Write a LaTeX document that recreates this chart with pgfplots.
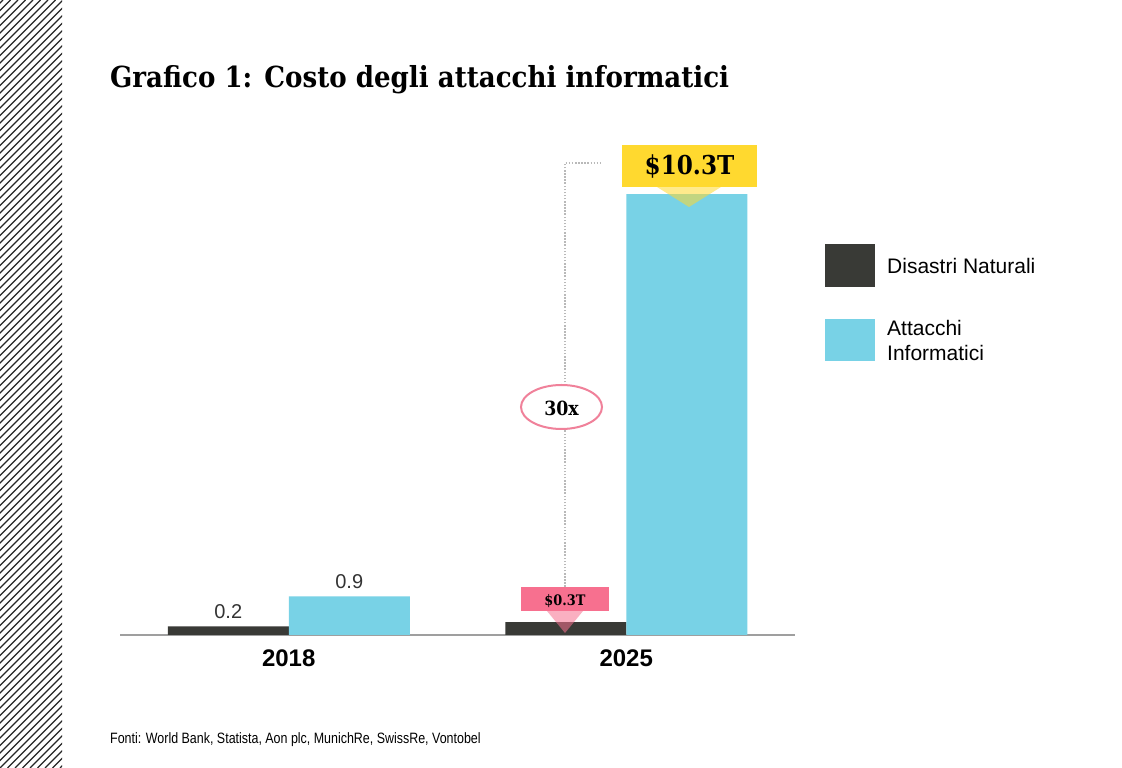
\documentclass[border=0pt]{standalone}
\usepackage{pgfplots}
\pgfplotsset{compat=1.18}
\usepackage{fontspec}
\setmainfont{Liberation Sans}
\newfontfamily\titlefont[FakeStretch=0.9]{DejaVu Serif}
\newfontfamily\tagfont[FakeStretch=0.89]{DejaVu Serif}
\newfontfamily\narrowsans[FakeStretch=0.83]{Liberation Sans}

\definecolor{darkbar}{HTML}{393A36}
\definecolor{cyanbar}{HTML}{78D2E6}
\definecolor{tagyellow}{HTML}{FFD92F}
\definecolor{tagpink}{HTML}{F7708F}
\definecolor{ringpink}{HTML}{F0819A}

\begin{document}
\begin{tikzpicture}
\begin{scope}[x=1pt,y=1pt]
  \fill[white] (0,0) rectangle (1122,768);
  \path[use as bounding box] (0,0) rectangle (1122,768);
  % hatched strip on the left
  \begin{scope}
    \clip (0,0) rectangle (62,768);
    \foreach \k in {-104,...,9}
      \draw[line width=1.1pt, black!85] (7.5*\k,0) -- ++(768,768);
  \end{scope}
  % title
  \node[anchor=base west, inner sep=0] at (110,680)
    {\titlefont\bfseries\fontsize{29}{34}\selectfont Grafico 1: Costo degli attacchi informatici};
\end{scope}

\begin{axis}[
    at={(120pt,133pt)}, anchor=south west,
    scale only axis, width=675pt, height=470.8pt,
    xmin=-0.5, xmax=1.5, ymin=0, ymax=11,
    enlargelimits=false, clip=false,
    ybar=0pt, bar width=121pt,
    axis x line*=bottom, axis y line=none,
    x axis line style={draw=gray!75, line width=1.4pt, -},
    xtick={0,1}, xticklabels={2018,2025},
    major tick length=0pt,
    xticklabel style={font=\bfseries\fontsize{24}{28}\selectfont, anchor=base, yshift=-32pt},
  ]
  \addplot[fill=darkbar, draw=none] coordinates {(0,0.2) (1,0.3)};
  \addplot[fill=cyanbar, draw=none] coordinates {(0,0.9) (1,10.3)};
  \node[anchor=base, inner sep=0, font=\fontsize{20}{24}\selectfont, text=black!80]
    at ([xshift=-60.5pt, yshift=8pt]axis cs:0,0.2) {0.2};
  \node[anchor=base, inner sep=0, font=\fontsize{20}{24}\selectfont, text=black!80]
    at ([xshift=60.5pt, yshift=8pt]axis cs:0,0.9) {0.9};
\end{axis}

\begin{scope}[x=1pt,y=1pt]
  % dotted connector
  \draw[gray!55, line width=1.5pt, dash pattern=on 1.5pt off 1.6pt] (565,181) -- (565,605) -- (600,605);
  % pink tag for 2025 natural disasters
  \fill[tagpink] (521,157) rectangle (609,181);
  \fill[tagpink, opacity=0.55] (547,157) -- (583,157) -- (565,135) -- cycle;
  \node[anchor=base, inner sep=0] at (565,162)
    {\tagfont\bfseries\fontsize{14.5}{16}\selectfont \$0.3T};
  % yellow tag for 2025 cyber attacks
  \fill[tagyellow] (622,581) rectangle (757,623);
  \fill[tagyellow, opacity=0.55] (657,581) -- (721,581) -- (689,561) -- cycle;
  \node[anchor=base, inner sep=0] at (689.5,593)
    {\tagfont\bfseries\fontsize{26}{30}\selectfont \$10.3T};
  % 30x ring
  \draw[ringpink, line width=2pt, fill=white] (561.5,361) ellipse [x radius=40.5, y radius=22];
  \node[anchor=base, inner sep=0] at (561.5,352)
    {\tagfont\bfseries\fontsize{19.5}{22}\selectfont 30x};
  % legend
  \fill[darkbar] (825,481) rectangle (875,524);
  \fill[cyanbar] (825,407) rectangle (875,449);
  \node[anchor=base west, inner sep=0, font=\fontsize{21}{25}\selectfont] at (887,494) {Disastri Naturali};
  \node[anchor=base west, inner sep=0, font=\fontsize{21}{25}\selectfont] at (887,432) {Attacchi};
  \node[anchor=base west, inner sep=0, font=\fontsize{21}{25}\selectfont] at (887,407) {Informatici};
  % source
  \node[anchor=base west, inner sep=0] at (110,24)
    {\narrowsans\fontsize{15}{18}\selectfont Fonti: World Bank, Statista, Aon plc, MunichRe, SwissRe, Vontobel};
\end{scope}
\end{tikzpicture}
\end{document}
